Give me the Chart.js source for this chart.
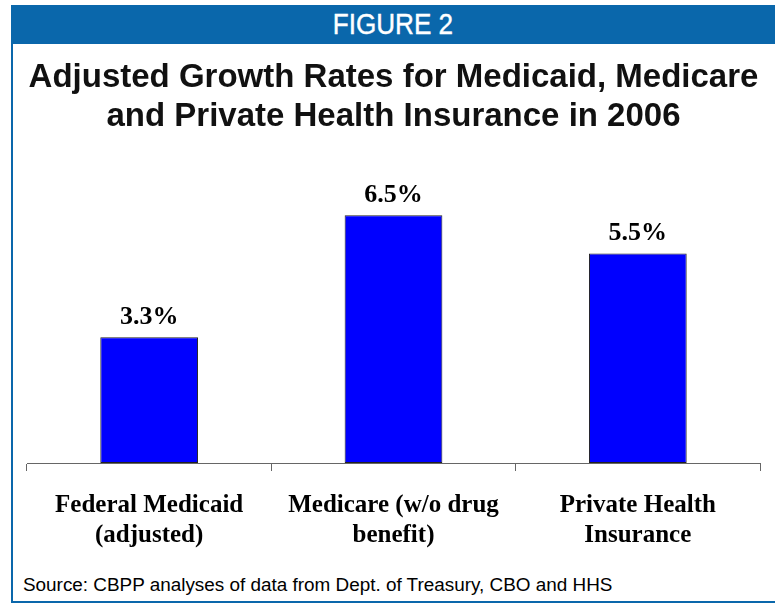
<!DOCTYPE html>
<html lang="en">
<head>
  <meta charset="UTF-8">
  <title>Figure 2 - Adjusted Growth Rates 2006</title>
  <script src="https://cdn.jsdelivr.net/npm/chart.js"></script>
  <style>
    body {
      margin: 0;
      padding: 0;
      background-color: #fff;
      width: 775px;
      height: 605px;
      overflow: hidden;
      position: relative;
    }
    #frame {
      position: absolute;
      left: 11px;
      top: 5px;
      width: 764px;
      height: 598px;
      box-sizing: border-box;
      border-left: 2px solid #0a67ab;
      border-bottom: 2px solid #0a67ab;
    }
    #header {
      position: absolute;
      left: 11px;
      top: 5px;
      width: 764px;
      height: 39px;
      background-color: #0a67ab;
      color: #fff;
      text-align: center;
      font-family: "Liberation Sans", Arial, sans-serif;
      font-size: 29px;
      line-height: 39px;
    }
    #header span {
      display: inline-block;
      transform: scaleX(0.9);
      -webkit-text-stroke: 0.4px #fff;
    }
    #chartBox {
      position: absolute;
      left: 0;
      top: 44px;
      width: 775px;
      height: 530px;
    }
    #source {
      position: absolute;
      left: 23px;
      top: 575px;
      font-family: "Liberation Sans", Arial, sans-serif;
      font-size: 18.9px;
      line-height: 20px;
      color: #000;
    }
  </style>
</head>
<body>
  <div id="frame"></div>
  <div id="header"><span>FIGURE 2</span></div>
  <div id="chartBox"><canvas id="growthChart"></canvas></div>
  <div id="source">Source: CBPP analyses of data from Dept. of Treasury, CBO and HHS</div>

  <script>
    const titleLines = [
      'Adjusted Growth Rates for Medicaid, Medicare',
      'and Private Health Insurance in 2006'
    ];
    const categories = [
      ['Federal Medicaid', '(adjusted)'],
      ['Medicare (w/o drug', 'benefit)'],
      ['Private Health', 'Insurance']
    ];
    const growthRates = [3.3, 6.5, 5.5];

    // percentage labels above each bar
    const valueLabels = {
      id: 'valueLabels',
      afterDatasetsDraw(chart) {
        const ctx = chart.ctx;
        const meta = chart.getDatasetMeta(0);
        ctx.save();
        ctx.font = 'bold 26px "Liberation Serif", "Times New Roman", serif';
        ctx.fillStyle = '#000';
        ctx.textAlign = 'center';
        ctx.textBaseline = 'middle';
        meta.data.forEach((bar, i) => {
          ctx.fillText(growthRates[i].toFixed(1) + '%', bar.x, bar.y - 20);
        });
        ctx.restore();
      }
    };

    new Chart(document.getElementById('growthChart'), {
      type: 'bar',
      data: {
        labels: categories,
        datasets: [{
          data: growthRates,
          backgroundColor: '#0000ff',
          borderColor: '#222',
          borderWidth: 1,
          borderSkipped: false,
          barPercentage: 0.4,
          categoryPercentage: 1
        }]
      },
      options: {
        responsive: true,
        maintainAspectRatio: false,
        animation: false,
        layout: {
          padding: { left: 27, right: 15, top: 0, bottom: 3 }
        },
        plugins: {
          legend: { display: false },
          tooltip: { enabled: false },
          title: {
            display: true,
            text: titleLines,
            color: '#111',
            font: { family: '"Liberation Sans", Arial, sans-serif', size: 33, weight: 'bold', lineHeight: 1.17 },
            padding: { top: 15, bottom: 60 }
          }
        },
        scales: {
          x: {
            grid: {
              display: true,
              drawOnChartArea: false,
              tickLength: 8,
              color: '#666'
            },
            border: { display: true, color: '#666' },
            ticks: {
              color: '#000',
              padding: 20,
              maxRotation: 0,
              autoSkip: false,
              font: { family: '"Liberation Serif", "Times New Roman", serif', size: 25, weight: 'bold', lineHeight: 1.2 }
            }
          },
          y: {
            display: false,
            min: 0,
            max: 7
          }
        }
      },
      plugins: [valueLabels]
    });
  </script>
</body>
</html>
